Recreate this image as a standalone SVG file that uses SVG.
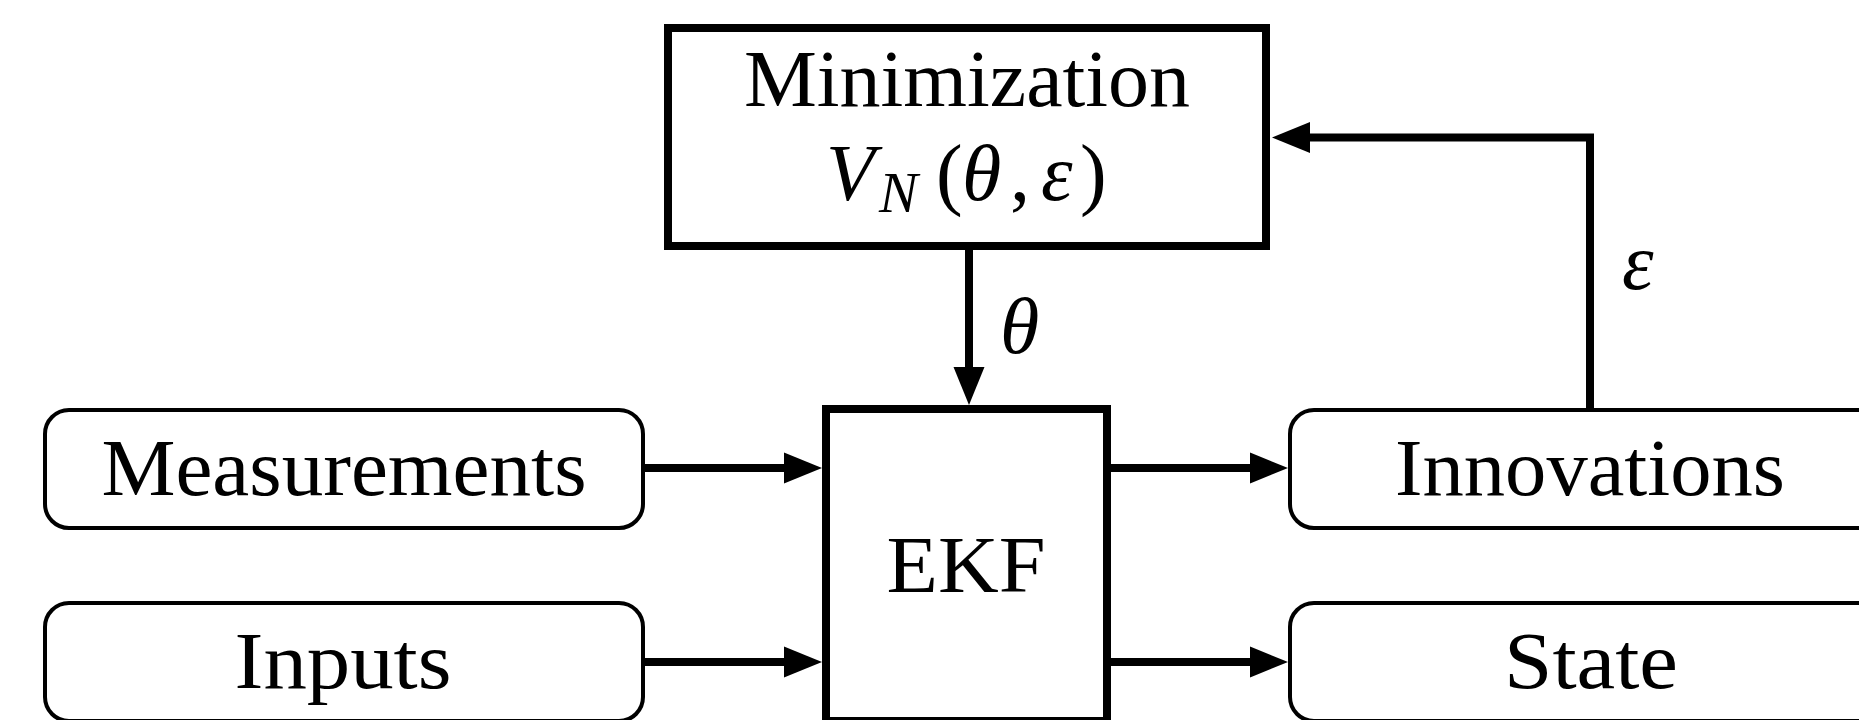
<svg xmlns="http://www.w3.org/2000/svg" width="1859" height="720" viewBox="0 0 1859 720">
<defs>
<style>
.box{fill:#fff;stroke:#000;stroke-width:8}
.rbox{fill:#fff;stroke:#000;stroke-width:4}
.lbl{font-family:"Liberation Serif","Times New Roman",serif;font-size:80px;fill:#000}
.it{font-style:italic}
.conn{fill:none;stroke:#000;stroke-width:8;stroke-linejoin:miter}
</style>
<marker id="ah" markerUnits="userSpaceOnUse" markerWidth="40" markerHeight="32" refX="8" refY="15.5" orient="auto" overflow="visible">
<path d="M0,0 L38,15.5 L0,31 z" fill="#000"/>
</marker>
</defs>
<rect width="1859" height="720" fill="#fff"/>
<g id="connectors">
<line class="conn" x1="645" y1="468" x2="792" y2="468" marker-end="url(#ah)"/>
<line class="conn" x1="645" y1="662" x2="792" y2="662" marker-end="url(#ah)"/>
<line class="conn" x1="1111" y1="468" x2="1258" y2="468" marker-end="url(#ah)"/>
<line class="conn" x1="1111" y1="662" x2="1258" y2="662" marker-end="url(#ah)"/>
<line class="conn" x1="969" y1="250" x2="969" y2="375" marker-end="url(#ah)"/>
<path class="conn" d="M1590,408 V137.5 H1302" marker-end="url(#ah)"/>
<text class="lbl it" x="1000" y="353">θ</text>
<text class="lbl it" x="1622" y="289">ε</text>
</g>
<g id="minimization">
<rect class="box" x="668" y="28" width="598" height="218"/>
<text class="lbl" x="967" y="106" text-anchor="middle" textLength="446" lengthAdjust="spacingAndGlyphs">Minimization</text>
<text class="lbl"><tspan class="it" x="826" y="200">V</tspan><tspan class="it" x="879" y="212" style="font-size:58px">N</tspan><tspan x="936" y="200">(</tspan><tspan class="it" x="962" y="200">θ</tspan><tspan x="1010" y="200">,</tspan><tspan class="it" x="1041" y="200">ε</tspan><tspan x="1080" y="200">)</tspan></text>
</g>
<g id="ekf">
<rect class="box" x="826" y="409" width="281" height="312"/>
<text class="lbl" x="966" y="592" text-anchor="middle" textLength="159" lengthAdjust="spacingAndGlyphs">EKF</text>
</g>
<g id="measurements">
<rect class="rbox" x="45" y="410" width="598" height="118" rx="24"/>
<text class="lbl" x="344" y="495" text-anchor="middle" textLength="485" lengthAdjust="spacingAndGlyphs">Measurements</text>
</g>
<g id="inputs">
<rect class="rbox" x="45" y="603" width="598" height="118" rx="24"/>
<text class="lbl" x="343" y="688" text-anchor="middle" textLength="217" lengthAdjust="spacingAndGlyphs">Inputs</text>
</g>
<g id="innovations">
<rect class="rbox" x="1290" y="410" width="600" height="118" rx="24"/>
<text class="lbl" x="1590" y="495" text-anchor="middle" textLength="390" lengthAdjust="spacingAndGlyphs">Innovations</text>
</g>
<g id="state">
<rect class="rbox" x="1290" y="603" width="600" height="118" rx="24"/>
<text class="lbl" x="1591" y="688" text-anchor="middle" textLength="174" lengthAdjust="spacingAndGlyphs">State</text>
</g>
</svg>
